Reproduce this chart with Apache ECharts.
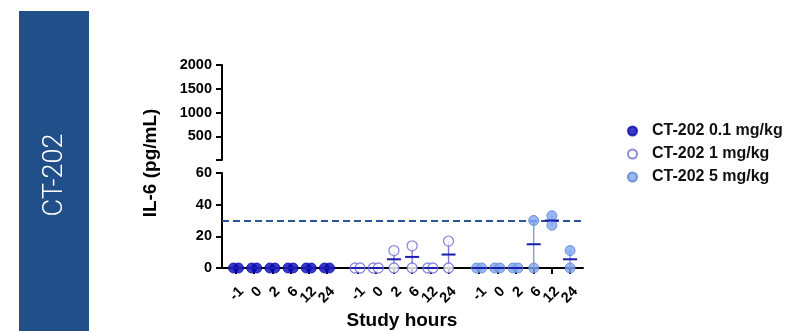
<!DOCTYPE html>
<html>
<head>
<meta charset="utf-8">
<script src="https://cdn.jsdelivr.net/npm/echarts@6/dist/echarts.min.js"></script>
<style>
  html, body { margin: 0; padding: 0; background: #fff; }
  #chart { width: 785px; height: 331px; }
</style>
</head>
<body>
<div id="chart"></div>
<script>
const times = ['-1', '0', '2', '6', '12', '24'];
const groups = ['CT-202 0.1 mg/kg', 'CT-202 1 mg/kg', 'CT-202 5 mg/kg'];
// IL-6 values, two subjects per time point
const dose01 = [[0, 0], [0, 0], [0, 0], [0, 0], [0, 0], [0, 0]];
const dose1 = [[0, 0], [0, 0], [0, 11], [0, 14], [0, 0], [0, 17]];
const dose5 = [[0, 0], [0, 0], [0, 0], [0, 30], [33, 27], [0, 11]];
const upperTicks = [500, 1000, 1500, 2000];
const lowerTicks = [0, 20, 40, 60];
const refLine = 30;

const font = '"Liberation Sans", Arial, sans-serif';
const groupData = [dose01, dose1, dose5];
const groupStep = 6.68; // gap between dose groups on the x scale
const pos = (g, i) => g * groupStep + i;
const xMin = -0.77;
const xMax = 19.07;

const tickPos = [];
const tickLabels = [];
groups.forEach((_, g) => times.forEach((t, i) => { tickPos.push(pos(g, i)); tickLabels.push(t); }));
// labels split over two axes so echarts does not drop overlapping neighbours
const evenPos = tickPos.filter((_, k) => k % 2 === 0);
const oddPos = tickPos.filter((_, k) => k % 2 === 1);

const pointStyles = [
    { color: '#0808b4', borderColor: '#0808b4', borderWidth: 1 },
    { color: '#ffffff', borderColor: '#6e6ed2', borderWidth: 1.3 },
    { color: '#7fa6ee', borderColor: '#5a80d8', borderWidth: 1 }
];
const errColors = ['#0808b4', '#7b7bd6', '#7a9fe6'];

// scatter points; identical values side by side
const pointSeries = groupData.map((vals, g) => {
    const data = [];
    vals.forEach((pair, i) => {
        const same = pair[0] === pair[1];
        pair.forEach((v, k) => {
            const off = same ? (k === 0 ? -0.14 : 0.14) : 0;
            data.push([pos(g, i) + off, v]);
        });
    });
    return {
        name: groups[g],
        type: 'scatter',
        xAxisIndex: 1,
        yAxisIndex: 1,
        symbol: 'circle',
        symbolSize: 10,
        z: 3,
        itemStyle: pointStyles[g],
        data: data
    };
});

// mean +- SEM per time point
const stats = [];
groupData.forEach((vals, g) => {
    vals.forEach((pair, i) => {
        const n = pair.length;
        const mean = pair.reduce((a, b) => a + b, 0) / n;
        const sd = Math.sqrt(pair.reduce((a, b) => a + (b - mean) * (b - mean), 0) / (n - 1));
        const sem = sd / Math.sqrt(n);
        stats.push([pos(g, i), mean, Math.max(0, mean - sem), mean + sem, g]);
    });
});

const axisText = { color: '#000', fontFamily: font, fontWeight: 'bold', fontSize: 14.5 };

const xLabel = (values) => Object.assign({
    customValues: values,
    rotate: 45,
    margin: 16,
    verticalAlign: 'top',
    showMinLabel: true,
    showMaxLabel: true,
    formatter: (v) => {
        let best = 0;
        tickPos.forEach((p, k) => { if (Math.abs(p - v) < Math.abs(tickPos[best] - v)) best = k; });
        return tickLabels[best];
    }
}, axisText);

const chart = echarts.init(document.getElementById('chart'));

const option = {
    animation: false,
    grid: [
        { left: 222, right: 202, top: 65, height: 95 },
        { left: 222, right: 202, top: 173, height: 95 }
    ],
    xAxis: [
        { gridIndex: 0, type: 'value', min: xMin, max: xMax, show: false },
        {
            gridIndex: 1,
            type: 'value',
            position: 'bottom',
            min: xMin,
            max: xMax,
            axisLine: { lineStyle: { color: '#000', width: 2 } },
            axisTick: { customValues: tickPos, length: 6, lineStyle: { color: '#000', width: 2 } },
            axisLabel: xLabel(evenPos),
            splitLine: { show: false }
        },
        {
            gridIndex: 1,
            type: 'value',
            position: 'bottom',
            min: xMin,
            max: xMax,
            axisLine: { show: false },
            axisTick: { show: false },
            axisLabel: xLabel(oddPos),
            splitLine: { show: false }
        }
    ],
    yAxis: [
        {
            gridIndex: 0,
            type: 'value',
            min: 0,
            max: 2000,
            axisLine: { show: true, onZero: false, lineStyle: { color: '#000', width: 2 } },
            axisTick: { show: true, customValues: [0].concat(upperTicks), length: 6, lineStyle: { color: '#000', width: 2 } },
            axisLabel: Object.assign({ customValues: upperTicks, margin: 10, formatter: (v) => String(v) }, axisText),
            splitLine: { show: false }
        },
        {
            gridIndex: 1,
            type: 'value',
            min: 0,
            max: 60,
            axisLine: { show: true, onZero: false, lineStyle: { color: '#000', width: 2 } },
            axisTick: { show: true, customValues: lowerTicks, length: 6, lineStyle: { color: '#000', width: 2 } },
            axisLabel: Object.assign({ customValues: lowerTicks, margin: 10, formatter: (v) => String(v) }, axisText),
            splitLine: { show: false }
        }
    ],
    legend: {
        orient: 'vertical',
        left: 622,
        top: 118,
        itemWidth: 9,
        itemHeight: 9,
        itemGap: 7,
        data: groups,
        textStyle: { fontFamily: font, fontWeight: 'bold', fontSize: 16, color: '#111', padding: [0, 0, 0, 10] }
    },
    graphic: [
        { type: 'rect', left: 19, top: 11, shape: { width: 70, height: 320 }, style: { fill: '#214f8a' } },
        {
            type: 'text', x: 55, y: 175, rotation: Math.PI / 2,
            style: { text: 'CT-202', fill: '#fff', font: '300 27px Roboto', align: 'center', verticalAlign: 'middle' }
        },
        {
            type: 'text', x: 151, y: 163, rotation: Math.PI / 2,
            style: { text: 'IL-6 (pg/mL)', fill: '#000', font: 'bold 19px ' + font, align: 'center', verticalAlign: 'middle' }
        },
        {
            type: 'text', x: 402, y: 321,
            style: { text: 'Study hours', fill: '#000', font: 'bold 19px ' + font, align: 'center', verticalAlign: 'middle' }
        }
    ],
    series: [
        {
            type: 'custom',
            xAxisIndex: 1,
            yAxisIndex: 1,
            z: 2,
            silent: true,
            renderItem: (params, api) => {
                const lo = api.coord([api.value(0), api.value(2)]);
                const hi = api.coord([api.value(0), api.value(3)]);
                return {
                    type: 'line',
                    shape: { x1: lo[0], y1: lo[1], x2: hi[0], y2: hi[1] },
                    style: { stroke: errColors[api.value(4)], lineWidth: 1.4 }
                };
            },
            data: stats,
            markLine: {
                silent: true,
                z: 1,
                symbol: ['none', 'none'],
                label: { show: false },
                lineStyle: { type: [7, 4], color: '#2b5597', width: 2 },
                data: [{ yAxis: refLine }]
            }
        }
    ].concat(pointSeries).concat([
        {
            type: 'custom',
            xAxisIndex: 1,
            yAxisIndex: 1,
            z: 4,
            silent: true,
            renderItem: (params, api) => {
                const c = api.coord([api.value(0), api.value(1)]);
                return {
                    type: 'line',
                    shape: { x1: c[0] - 7, y1: c[1], x2: c[0] + 7, y2: c[1] },
                    style: { stroke: '#1c1cae', lineWidth: 2 }
                };
            },
            data: stats
        }
    ])
};

chart.setOption(option);
</script>
</body>
</html>
